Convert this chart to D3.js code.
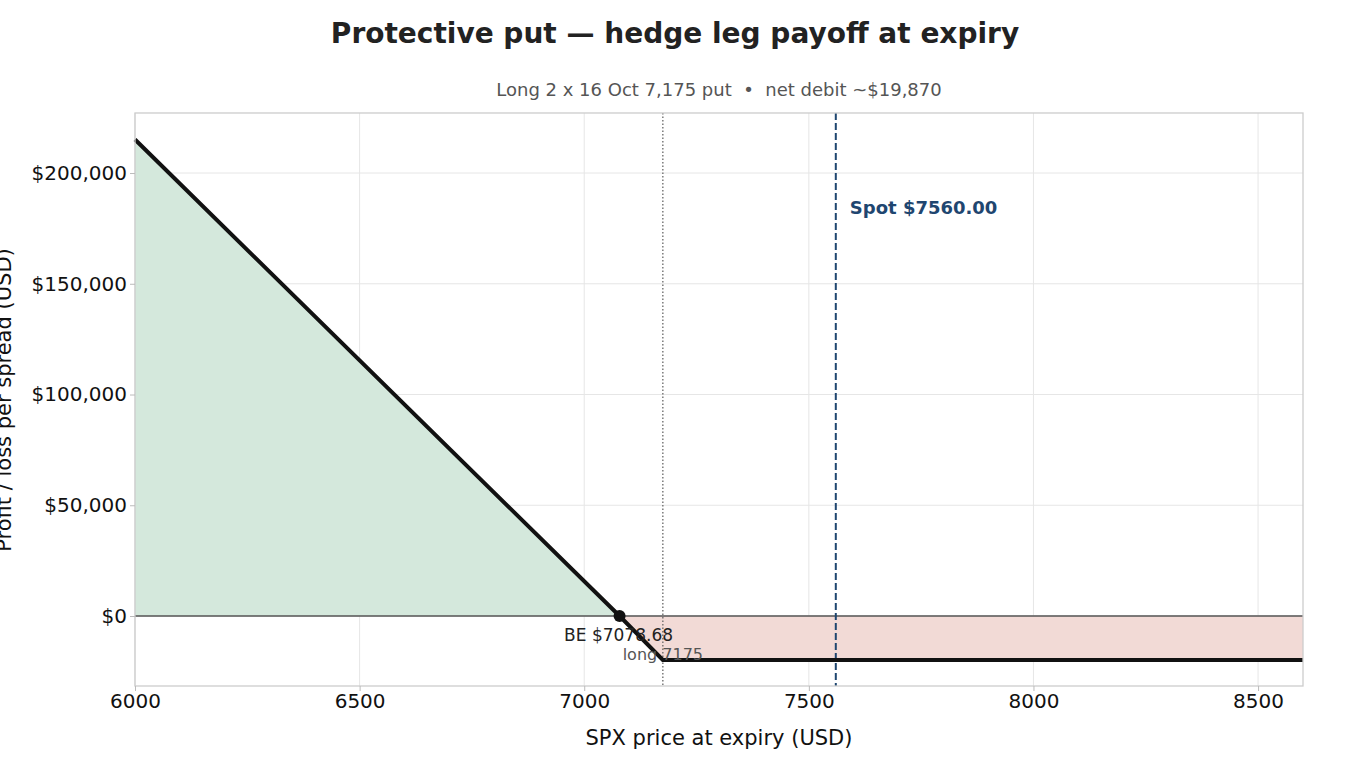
<!DOCTYPE html><html><head><meta charset="utf-8"/>
<script src="https://d3js.org/d3.v7.min.js"></script>
<style>body{margin:0;width:1350px;height:780px;background:#fff;font-family:"DejaVu Sans",sans-serif;}</style>
</head><body><svg id="c" width="1350" height="780"></svg>
<script>
// payoff vertices
const spotPts = [6000, 7078.68, 7175, 8600];
const pnlPts = [215130, 0, -19870, -19870];
const xTicks = [6000, 6500, 7000, 7500, 8000, 8500];
const yTicks = [0, 50000, 100000, 150000, 200000];
const strike = 7175, spot = 7560, breakeven = 7078.68;

const svg = d3.select("#c");
const L = 135, R = 1303, T = 113, B = 686;
const x = d3.scaleLinear().domain([6000, 8600]).range([L, R]);
const y = d3.scaleLinear().domain([-31600, 227100]).range([B, T]);
const pts = spotPts.map((s, i) => ({s, v: pnlPts[i]}));

svg.append("text").attr("x", 675).attr("y", 43).attr("text-anchor", "middle")
  .attr("font-size", 28).attr("font-weight", "bold").attr("fill", "#222")
  .text("Protective put — hedge leg payoff at expiry");
svg.append("text").attr("x", 719).attr("y", 96).attr("text-anchor", "middle")
  .attr("font-size", 18).attr("fill", "#555").style("white-space", "pre")
  .text("Long 2 x 16 Oct 7,175 put  •  net debit ~$19,870");

// grid
svg.append("g").selectAll("line").data(xTicks).join("line")
  .attr("x1", d => x(d)).attr("x2", d => x(d)).attr("y1", T).attr("y2", B)
  .attr("stroke", "#e6e6e6");
svg.append("g").selectAll("line").data(yTicks).join("line")
  .attr("y1", d => y(d)).attr("y2", d => y(d)).attr("x1", L).attr("x2", R)
  .attr("stroke", "#e6e6e6");

// fills
const area = d3.area().x(d => x(d.s)).y0(y(0)).y1(d => y(d.v));
svg.append("path").datum(pts.filter(d => d.v >= 0)).attr("d", area).attr("fill", "#d4e8dc");
svg.append("path").datum(pts.filter(d => d.v <= 0)).attr("d", area).attr("fill", "#f2dad6");

svg.append("line").attr("x1", L).attr("x2", R).attr("y1", y(0)).attr("y2", y(0))
  .attr("stroke", "#555").attr("stroke-width", 1.5);
svg.append("line").attr("x1", x(strike)).attr("x2", x(strike)).attr("y1", T).attr("y2", B)
  .attr("stroke", "#666").attr("stroke-width", 1.3).attr("stroke-dasharray", "1.5,2");
svg.append("line").attr("x1", x(spot)).attr("x2", x(spot)).attr("y1", T).attr("y2", B)
  .attr("stroke", "#1f4670").attr("stroke-width", 2).attr("stroke-dasharray", "7,3");

svg.append("path").datum(pts).attr("fill", "none").attr("stroke", "#111").attr("stroke-width", 4)
  .attr("d", d3.line().x(d => x(d.s)).y(d => y(d.v)));
svg.append("circle").attr("cx", x(breakeven)).attr("cy", y(0)).attr("r", 6).attr("fill", "#111");

svg.append("text").attr("x", x(spot) + 14).attr("y", 214).attr("font-size", 18)
  .attr("font-weight", "bold").attr("fill", "#1f4670").text("Spot $7560.00");
svg.append("text").attr("x", x(breakeven) - 1).attr("y", 641).attr("text-anchor", "middle")
  .attr("font-size", 17).attr("fill", "#222").text("BE $7078.68");
svg.append("text").attr("x", x(strike)).attr("y", 660).attr("text-anchor", "middle")
  .attr("font-size", 16).attr("fill", "#555").text("long 7175");

// frame & axes
svg.append("rect").attr("x", L).attr("y", T).attr("width", R - L).attr("height", B - T)
  .attr("fill", "none").attr("stroke", "#ccc").attr("stroke-width", 1.3);
const gx = svg.append("g").attr("transform", `translate(0,${B})`)
  .call(d3.axisBottom(x).tickValues(xTicks).tickFormat(d3.format("d")).tickSize(5));
gx.selectAll("text").attr("font-size", 20).attr("fill", "#111").attr("font-family", "DejaVu Sans");
const gy = svg.append("g").attr("transform", `translate(${L},0)`)
  .call(d3.axisLeft(y).tickValues(yTicks).tickFormat(d => "$" + d3.format(",")(d)).tickSize(5));
gy.selectAll("text").attr("font-size", 20).attr("fill", "#111").attr("font-family", "DejaVu Sans");
svg.selectAll(".domain").remove();
svg.selectAll(".tick line").attr("stroke", "#bbb");

svg.append("text").attr("x", 719).attr("y", 745).attr("text-anchor", "middle")
  .attr("font-size", 21).attr("fill", "#111").text("SPX price at expiry (USD)");
svg.append("text").attr("transform", "translate(11,400) rotate(-90)").attr("text-anchor", "middle")
  .attr("font-size", 21).attr("fill", "#111").text("Profit / loss per spread (USD)");
</script></body></html>
